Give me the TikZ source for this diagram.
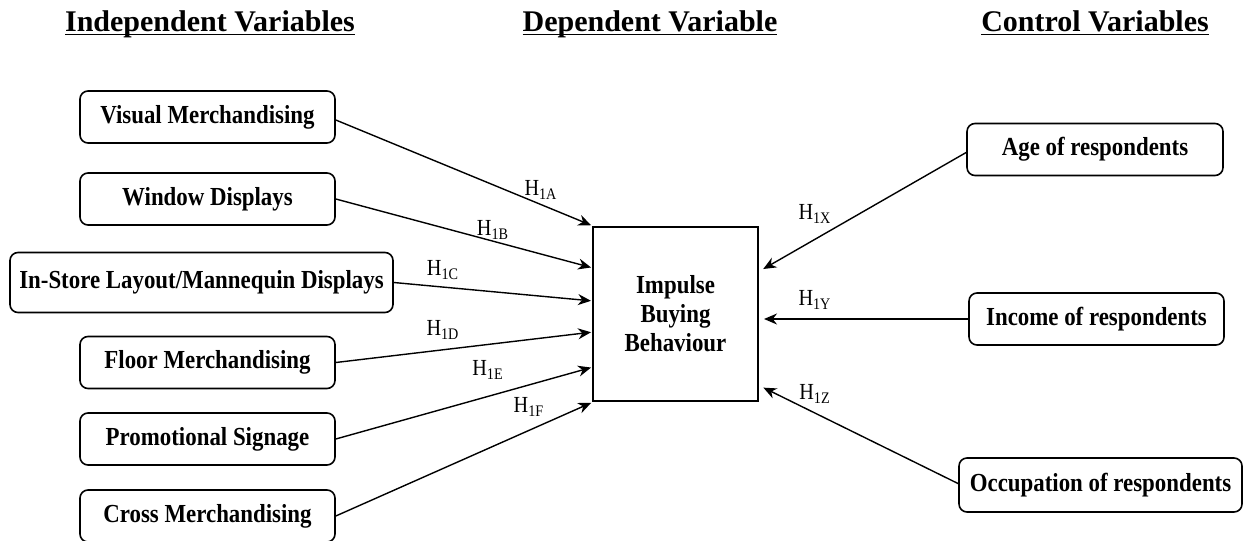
\documentclass[tikz,border=0pt]{standalone}
\usepackage{fontspec}
\setmainfont{Liberation Serif}
\newfontfamily\nfont{Liberation Serif}[FakeStretch=0.88]
\usetikzlibrary{arrows.meta}
\begin{document}
\begin{tikzpicture}[x=0.5pt,y=-0.5pt,
 box/.style={draw, line width=0.8pt, rounded corners=4pt, minimum height=26pt, minimum width=127.5pt, inner sep=0pt, font=\nfont\bfseries\fontsize{13}{15}\selectfont},
 arr/.style={-{Stealth[length=6.5pt,width=5.5pt]}, line width=0.7pt, shorten >=1pt},
 hyp/.style={font=\nfont\fontsize{11.5}{13}\selectfont, inner sep=0pt},
 ttl/.style={font=\bfseries\fontsize{15}{18}\selectfont, inner sep=0pt, anchor=base}]
\useasboundingbox (0,0) rectangle (1245,540);
% titles
\node[ttl] (t1) at (210,32) {\underline{\smash{Independent Variables}}};
\node[ttl] (t2) at (650,32) {\underline{\smash{Dependent Variable}}};
\node[ttl] (t3) at (1095,32) {\underline{\smash{Control Variables}}};
% left boxes
\node[box] (vm) at (207.5,117) {Visual Merchandising};
\node[box] (wd) at (207.5,199) {Window Displays};
\node[box, minimum width=191.5pt, minimum height=30pt] (isl) at (201.5,282.5) {In-Store Layout/Mannequin Displays};
\node[box] (fm) at (207.5,362.5) {Floor Merchandising};
\node[box] (ps) at (207.5,439) {Promotional Signage};
\node[box] (cm) at (207.5,516) {Cross Merchandising};
% central box
\node[draw, line width=0.8pt, minimum width=82.5pt, minimum height=87pt, inner sep=0pt, align=center, font=\nfont\bfseries\fontsize{13}{14.5}\selectfont] (ibb) at (675.5,314) {Impulse\\Buying\\Behaviour};
% right boxes
\node[box, minimum width=128pt] (age) at (1095,149.5) {Age of respondents};
\node[box] (inc) at (1096.5,319) {Income of respondents};
\node[box, minimum width=141.5pt, minimum height=27pt] (occ) at (1100.5,485) {Occupation of respondents};
% target coordinates
\coordinate (ta) at (593,226);
\coordinate (tb) at (593,268);
\coordinate (tc) at (593,301);
\coordinate (td) at (593,332);
\coordinate (te) at (593,367);
\coordinate (tf) at (593,402);
\coordinate (tx) at (758,272);
\coordinate (ty) at (758,319);
\coordinate (tz) at (758,385);
\coordinate (sx) at (967,152);
\coordinate (sz) at (959,484);
% arrows
\draw[arr] (vm.east) ++(0,3) -- (ta);
\draw[arr] (wd.east) -- (tb);
\draw[arr] (isl.east) -- (tc);
\draw[arr] (fm.east) -- (td);
\draw[arr] (ps.east) -- (te);
\draw[arr] (cm.east) -- (tf);
\draw[arr, shorten >=3pt] (sx) -- (tx);
\draw[arr, shorten >=3pt] (inc.west) -- (ty);
\draw[arr, shorten >=3pt] (sz) -- (tz);
% labels
\node[hyp] (ha) at (541,190) {H\textsubscript{1A}};
\node[hyp] (hb) at (493,230) {H\textsubscript{1B}};
\node[hyp] (hc) at (443,270) {H\textsubscript{1C}};
\node[hyp] (hd) at (443,330) {H\textsubscript{1D}};
\node[hyp] (he) at (488,370) {H\textsubscript{1E}};
\node[hyp] (hf) at (529,407) {H\textsubscript{1F}};
\node[hyp] (hx) at (815,214) {H\textsubscript{1X}};
\node[hyp] (hy) at (815,300) {H\textsubscript{1Y}};
\node[hyp] (hz) at (815,394) {H\textsubscript{1Z}};
\end{tikzpicture}
\end{document}
